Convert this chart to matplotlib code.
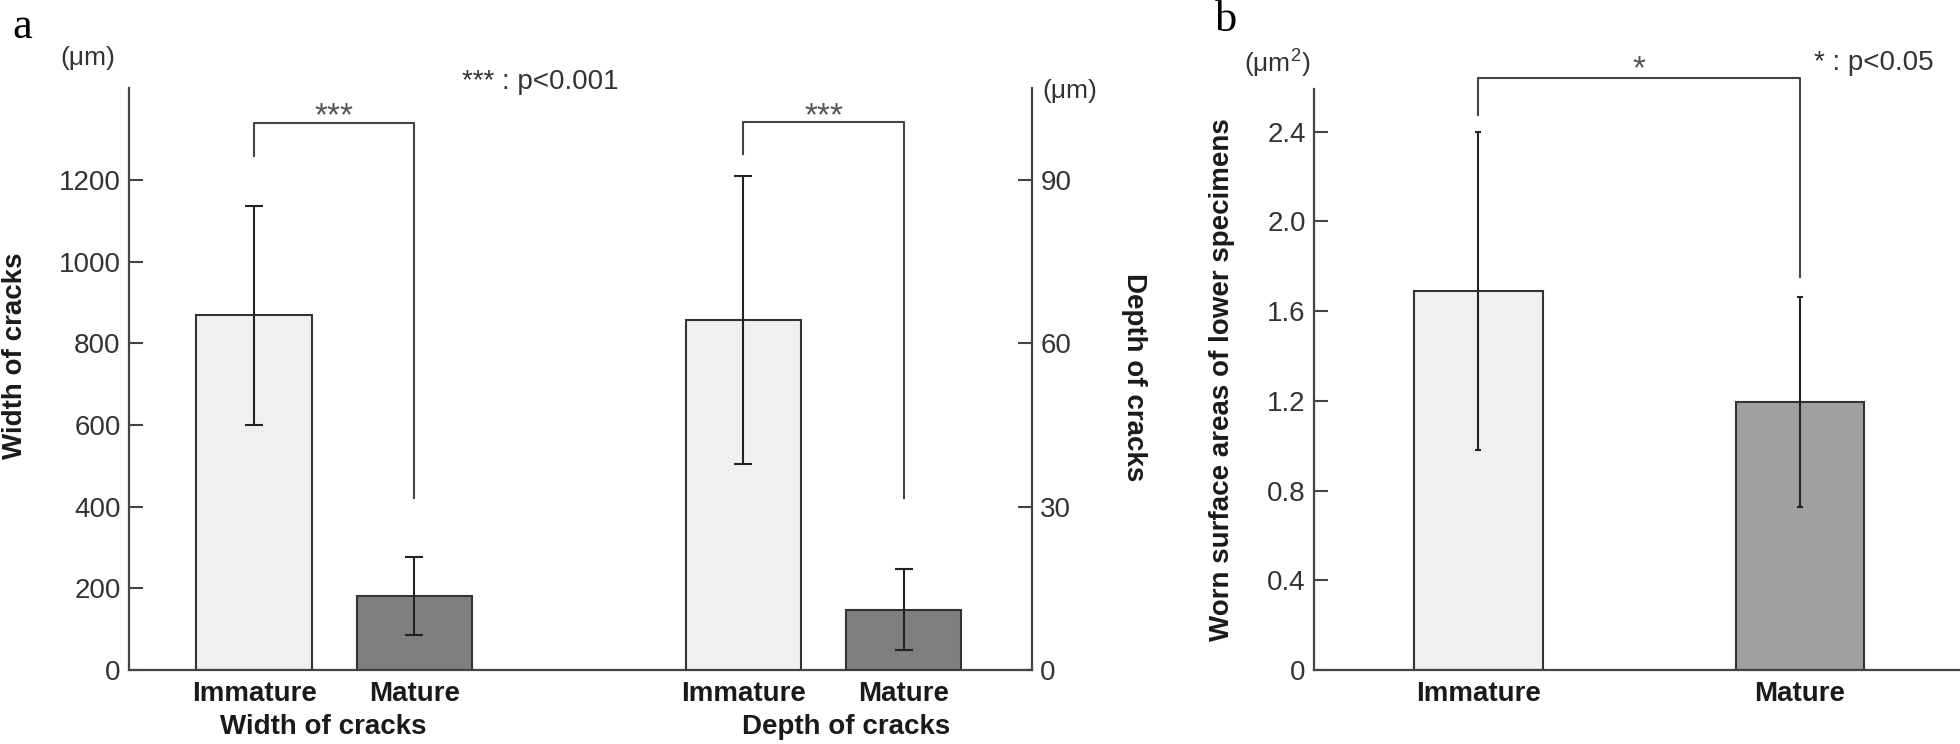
import numpy as np
import matplotlib.pyplot as plt
from matplotlib.transforms import blended_transform_factory

plt.rcParams['font.family'] = ['Liberation Sans', 'DejaVu Sans']

# data
groups = ['Immature', 'Mature']
width_mean = [868, 181]
width_sd = [268, 95]
depth_mean = [64.3, 11.1]
depth_sd = [26.4, 7.5]
worn_mean = [1.69, 1.195]
worn_sd = [0.71, 0.47]

width_ticks = [0, 200, 400, 600, 800, 1000, 1200]
depth_ticks = [0, 30, 60, 90]
worn_ticks = [0, 0.4, 0.8, 1.2, 1.6, 2.0, 2.4]
worn_ticklabels = ['0', '0.4', '0.8', '1.2', '1.6', '2.0', '2.4']

# significance brackets: (left start, top, right end)
width_bracket = (1259, 1340, 420)
depth_bracket = (94.8, 100.6, 31.6)
worn_bracket = (2.475, 2.64, 1.75)

light = '#f0f0f0'
dark_a = '#7f7f7f'
dark_b = '#a0a0a0'
edge = '#333333'
axcol = '#444444'
tickcol = '#333333'
labcol = '#1a1a1a'

W, H = 1960, 744
fig = plt.figure(figsize=(W / 100, H / 100), dpi=100)


def frac(l, t, r, b):
    return [l / W, 1 - b / H, (r - l) / W, (b - t) / H]


def ftext(x, y, s, **kw):
    fig.text(x / W, 1 - y / H, s, **kw)


def style_y(a):
    a.tick_params(axis='y', direction='in', length=10, width=1.5, pad=6,
                  labelsize=20, color=axcol, labelcolor=tickcol)
    for s in a.spines.values():
        s.set_color(axcol)
        s.set_linewidth(1.6)


def bracket(a, x0, x1, br, stars, star_y):
    y0, top, y1 = br
    a.plot([x0, x0, x1, x1], [y0, top, top, y1], color=axcol, lw=1.5,
           clip_on=False, zorder=5)
    a.text((x0 + x1) / 2, star_y, stars, ha='center', va='center',
           fontsize=24, color='#555555', clip_on=False)


# ---- panel a ----
ax = fig.add_axes(frac(129, 88, 1032, 670))
ax2 = ax.twinx()
pos_w = np.array([0, 1])
pos_d = pos_w + 3.05
bw = 0.72

ax.bar(pos_w, width_mean, bw, color=[light, dark_a], edgecolor=edge, linewidth=1.5, zorder=2)
ax.errorbar(pos_w, width_mean, yerr=width_sd, fmt='none', ecolor='#222222',
            elinewidth=1.5, capsize=6.5, capthick=1.5, zorder=3)
ax2.bar(pos_d, depth_mean, bw, color=[light, dark_a], edgecolor=edge, linewidth=1.5, zorder=2)
ax2.errorbar(pos_d, depth_mean, yerr=depth_sd, fmt='none', ecolor='#222222',
             elinewidth=1.5, capsize=6.5, capthick=1.5, zorder=3)

ax.set_xlim(-0.78, 4.85)
ax.set_ylim(0, 1425)
ax2.set_ylim(0, 1425 / 13.333)
ax.set_yticks(width_ticks)
ax2.set_yticks(depth_ticks)
style_y(ax)
style_y(ax2)
ax.spines['top'].set_visible(False)
ax.spines['right'].set_visible(False)
for s in ['top', 'left', 'bottom']:
    ax2.spines[s].set_visible(False)

ax.set_xticks(np.concatenate([pos_w, pos_d]))
ax.set_xticklabels(groups * 2, fontsize=20, fontweight='bold', color=labcol)
ax.tick_params(axis='x', length=0, pad=8)

tr = blended_transform_factory(ax.transData, fig.transFigure)
ax.text(pos_w.mean() - 0.07, 1 - 727 / H, 'Width of cracks', transform=tr, ha='center',
        va='center', fontsize=20, fontweight='bold', color=labcol)
ax.text(pos_d.mean() + 0.14, 1 - 727 / H, 'Depth of cracks', transform=tr, ha='center',
        va='center', fontsize=20, fontweight='bold', color=labcol)

bracket(ax, pos_w[0], pos_w[1], width_bracket, '***', 1355)
bracket(ax2, pos_d[0], pos_d[1], depth_bracket, '***', 101.6)

ftext(15, 356, 'Width of cracks', rotation=90, ha='center', va='center',
      fontsize=20, fontweight='bold', color=labcol)
ftext(1134, 377, 'Depth of cracks', rotation=-90, ha='center', va='center',
      fontsize=20, fontweight='bold', color=labcol)
ftext(88, 58, '(μm)', ha='center', va='center', fontsize=19, color=tickcol)
ftext(1070, 91, '(μm)', ha='center', va='center', fontsize=19, color=tickcol)
ftext(462, 82, '*** : p<0.001', ha='left', va='center', fontsize=20, color=tickcol)
ftext(22, 27, 'a', ha='center', va='center', fontsize=32, family='Liberation Serif')

# ---- panel b ----
bx = fig.add_axes(frac(1314, 89, 1960, 670))
pos_b = np.array([0, 1])
bx.bar(pos_b, worn_mean, 0.4, color=[light, dark_b], edgecolor=edge, linewidth=1.5, zorder=2)
bx.errorbar(pos_b, worn_mean, yerr=worn_sd, fmt='none', ecolor='#222222',
            elinewidth=1.5, capsize=2.5, capthick=1.5, zorder=3)
bx.set_xlim(-0.51, 1.497)
bx.set_ylim(0, 2.59)
bx.set_yticks(worn_ticks)
bx.set_yticklabels(worn_ticklabels)
style_y(bx)
bx.spines['top'].set_visible(False)
bx.spines['right'].set_visible(False)
bx.set_xticks(pos_b)
bx.set_xticklabels(groups, fontsize=20, fontweight='bold', color=labcol)
bx.tick_params(axis='x', length=0, pad=8)

bracket(bx, pos_b[0], pos_b[1], worn_bracket, '*', 2.675)

ftext(1222, 380, 'Worn surface areas of lower specimens', rotation=90, ha='center',
      va='center', fontsize=20, fontweight='bold', color=labcol)
ftext(1277, 63, r'(μm$^\mathregular{2}$)', ha='center', va='center', fontsize=19, color=tickcol)
ftext(1814, 63, '* : p<0.05', ha='left', va='center', fontsize=20, color=tickcol)
ftext(1226, 20, 'b', ha='center', va='center', fontsize=32, family='Liberation Serif')

fig.savefig('out.png', dpi=100)
